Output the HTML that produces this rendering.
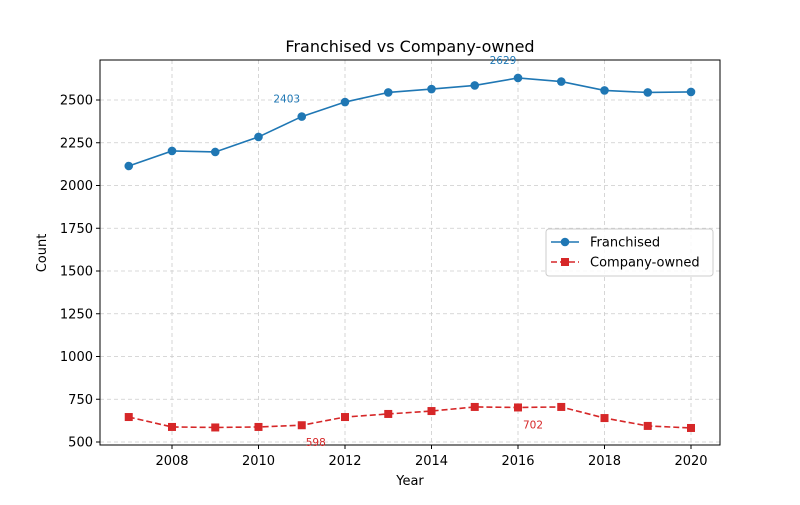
<!DOCTYPE html>
<html><head><meta charset="utf-8"><style>
body{margin:0;background:#fff;font-family:"Liberation Sans","DejaVu Sans",sans-serif}
svg text{font-family:"DejaVu Sans","Liberation Sans",sans-serif}
</style></head><body>
<svg id="c" width="800" height="500"></svg>
<script>
const years=[2007,2008,2009,2010,2011,2012,2013,2014,2015,2016,2017,2018,2019,2020];
const franchised=[2114,2202,2196,2284,2403,2488,2544,2564,2585,2629,2608,2556,2544,2547];
const company=[646,588,585,588,598,646,664,681,705,702,705,640,594,582];
const xTicks=[2008,2010,2012,2014,2016,2018,2020];
const yTicks=[500,750,1000,1250,1500,1750,2000,2250,2500];
const L=100,R=720,T=60,B=445;
const X=v=>172+(v-2008)*43.25;
const Y=v=>442-(v-500)*0.171;
const s=document.getElementById('c');const NS='http://www.w3.org/2000/svg';
function mk(t,a,p){const e=document.createElementNS(NS,t);for(const k in a)e.setAttribute(k,a[k]);(p||s).appendChild(e);return e;}
let g=mk('g',{});


xTicks.forEach(v=>mk('line',{x1:X(v),x2:X(v),y1:T,y2:B,stroke:'#ccc','stroke-dasharray':'4,3','stroke-width':0.8},g));
yTicks.forEach(v=>mk('line',{x1:L,x2:R,y1:Y(v),y2:Y(v),stroke:'#ccc','stroke-dasharray':'4,3','stroke-width':0.8},g));
let fr=mk('rect',{x:L,y:T,width:R-L,height:B-T,fill:'none',stroke:'#000','stroke-width':1});


xTicks.forEach(v=>{mk('line',{x1:X(v),x2:X(v),y1:B,y2:B+4,stroke:'#000'});let t=mk('text',{x:X(v),y:B+20,'text-anchor':'middle','font-size':13});t.textContent=v;

});
yTicks.forEach(v=>{mk('line',{x1:L-4,x2:L,y1:Y(v),y2:Y(v),stroke:'#000'});let t=mk('text',{x:L-7,y:Y(v)+4.5,'text-anchor':'end','font-size':13});t.textContent=v;

});
let tt=mk('text',{x:410,y:52,'text-anchor':'middle','font-size':16});tt.textContent='Franchised vs Company-owned';


let xt=mk('text',{x:410,y:485,'text-anchor':'middle','font-size':13});xt.textContent='Year';


let yt=mk('text',{x:0,y:0,'text-anchor':'middle','font-size':13,transform:'translate(46,253) rotate(-90)'});yt.textContent='Count';


let p1=mk('polyline',{points:years.map((y,i)=>X(y)+','+Y(franchised[i])).join(' '),fill:'none',stroke:'#1f77b4','stroke-width':1.6});


years.forEach((y,i)=>{let c=mk('circle',{cx:X(y),cy:Y(franchised[i]),r:4.3,fill:'#1f77b4'});

});
let p2=mk('polyline',{points:years.map((y,i)=>X(y)+','+Y(company[i])).join(' '),fill:'none',stroke:'#d62728','stroke-width':1.6,'stroke-dasharray':'6,3'});


years.forEach((y,i)=>{let c=mk('rect',{x:X(y)-4,y:Y(company[i])-4,width:8,height:8,fill:'#d62728'});

});
[[4,franchised,'#1f77b4',-15,-14],[9,franchised,'#1f77b4',-15,-14],[4,company,'#d62728',14,21],[9,company,'#d62728',15,21]].forEach(a=>{
let t=mk('text',{x:X(years[a[0]])+a[3],y:Y(a[1][a[0]])+a[4],'text-anchor':'middle','font-size':10.5,fill:a[2]});t.textContent=a[1][a[0]];

});
let lg=mk('g',{});


mk('rect',{x:546,y:229,width:167,height:47,rx:3,fill:'#fff','fill-opacity':0.85,stroke:'#ccc'},lg);
mk('line',{x1:551,x2:579,y1:242,y2:242,stroke:'#1f77b4','stroke-width':1.6},lg);
mk('circle',{cx:565,cy:242,r:4.3,fill:'#1f77b4'},lg);
let l1=mk('text',{x:590,y:246.5,'font-size':13},lg);l1.textContent='Franchised';
mk('line',{x1:551,x2:579,y1:262,y2:262,stroke:'#d62728','stroke-width':1.6,'stroke-dasharray':'6,3'},lg);
mk('rect',{x:561,y:258,width:8,height:8,fill:'#d62728'},lg);
let l2=mk('text',{x:590,y:266.5,'font-size':13},lg);l2.textContent='Company-owned';
</script>
</body></html>
